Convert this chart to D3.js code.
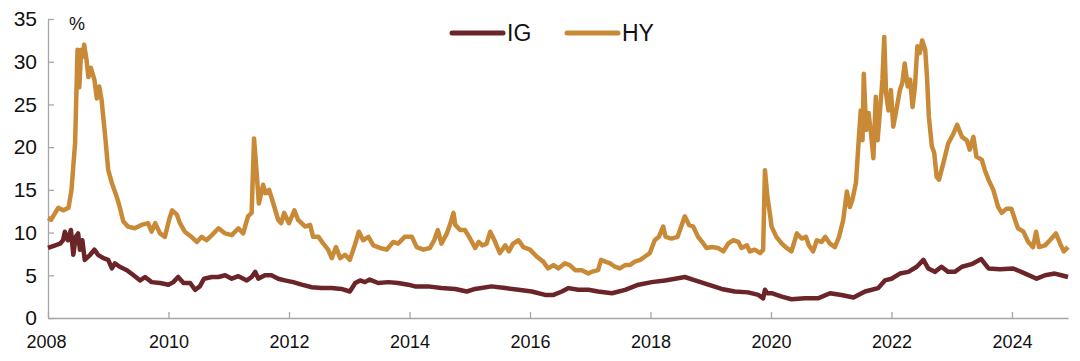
<!DOCTYPE html>
<html>
<head>
<meta charset="utf-8">
<script src="https://cdn.jsdelivr.net/npm/d3@7"></script>
<style>
  body { margin: 0; background: #fff; }
  svg { display: block; font-family: "Liberation Sans", Arial, sans-serif; }
</style>
</head>
<body>
<div id="chart"></div>
<script>
// HY series (decimal year, %)
const hyYears = [2008.0, 2008.05, 2008.17, 2008.25, 2008.34, 2008.39, 2008.45, 2008.49, 2008.52, 2008.55, 2008.58, 2008.60, 2008.64, 2008.67, 2008.71, 2008.77, 2008.81, 2008.85, 2008.89, 2008.95,
  2009.0, 2009.06, 2009.14, 2009.19, 2009.25, 2009.33, 2009.44, 2009.55, 2009.66, 2009.72, 2009.78, 2009.86, 2009.94,
  2010.01, 2010.06, 2010.14, 2010.19, 2010.27, 2010.38, 2010.47, 2010.55, 2010.63, 2010.72, 2010.83, 2010.94,
  2011.05, 2011.16, 2011.24, 2011.32, 2011.38, 2011.42, 2011.46, 2011.50, 2011.57, 2011.61, 2011.67, 2011.74, 2011.82, 2011.87, 2011.92,
  2012.0, 2012.09, 2012.15, 2012.27, 2012.35, 2012.40, 2012.49, 2012.57, 2012.65, 2012.71, 2012.78, 2012.85, 2012.93,
  2013.01, 2013.10, 2013.16, 2013.23, 2013.32, 2013.40, 2013.51, 2013.62, 2013.73, 2013.81, 2013.92,
  2014.04, 2014.12, 2014.23, 2014.34, 2014.41, 2014.47, 2014.53, 2014.62, 2014.68, 2014.73, 2014.76, 2014.84, 2014.92, 2014.99,
  2015.09, 2015.15, 2015.21, 2015.28, 2015.34, 2015.41, 2015.50, 2015.59, 2015.65, 2015.72, 2015.81, 2015.89,
  2016.0, 2016.11, 2016.22, 2016.30, 2016.39, 2016.47, 2016.58, 2016.66, 2016.75, 2016.86, 2016.97,
  2017.02, 2017.13, 2017.18, 2017.25, 2017.33, 2017.41, 2017.49, 2017.58, 2017.66, 2017.74, 2017.83, 2017.91, 2017.99,
  2018.07, 2018.14, 2018.21, 2018.25, 2018.35, 2018.45, 2018.51, 2018.57, 2018.64, 2018.71, 2018.79, 2018.88, 2018.93,
  2019.02, 2019.12, 2019.21, 2019.29, 2019.37, 2019.46, 2019.51, 2019.60, 2019.65, 2019.73, 2019.82, 2019.87, 2019.90, 2019.94, 2019.98,
  2020.01, 2020.09, 2020.18, 2020.26, 2020.34, 2020.43, 2020.51, 2020.58, 2020.63, 2020.70, 2020.76, 2020.84, 2020.90, 2020.98,
  2021.06, 2021.13, 2021.20, 2021.26, 2021.31, 2021.35, 2021.41, 2021.46, 2021.49, 2021.52, 2021.54, 2021.58, 2021.62, 2021.66, 2021.70, 2021.74, 2021.77, 2021.81, 2021.85, 2021.88, 2021.91, 2021.95, 2021.99,
  2022.03, 2022.08, 2022.14, 2022.18, 2022.22, 2022.27, 2022.31, 2022.35, 2022.39, 2022.43, 2022.47, 2022.51, 2022.56, 2022.59, 2022.62, 2022.67, 2022.71, 2022.75, 2022.79, 2022.86, 2022.94,
  2023.03, 2023.09, 2023.17, 2023.25, 2023.30, 2023.36, 2023.41, 2023.50, 2023.55, 2023.61, 2023.69, 2023.77, 2023.83, 2023.91, 2023.99,
  2024.05, 2024.10, 2024.19, 2024.27, 2024.35, 2024.40, 2024.45, 2024.55, 2024.63, 2024.73, 2024.80, 2024.86, 2024.93];
const hyValues = [11.7, 11.5, 12.9, 12.6, 12.9, 15.0, 20.5, 31.4, 27.0, 31.4, 30.6, 32.0, 30.2, 28.2, 29.3, 27.9, 25.7, 27.1, 25.5, 21.2,
  17.3, 15.8, 14.2, 13.0, 11.3, 10.7, 10.5, 10.9, 11.1, 10.1, 11.1, 9.9, 9.5,
  11.5, 12.6, 12.1, 11.1, 10.1, 9.5, 8.9, 9.5, 9.1, 9.7, 10.5, 9.9,
  9.7, 10.5, 9.9, 11.9, 12.3, 21.0, 17.3, 13.4, 15.6, 14.6, 15.0, 13.4, 11.5, 11.1, 12.3,
  11.1, 12.6, 11.5, 10.7, 10.9, 9.5, 9.5, 8.7, 8.0, 7.0, 8.3, 7.0, 7.4,
  6.8, 8.7, 10.1, 9.1, 9.5, 8.5, 8.2, 8.0, 8.9, 8.7, 9.5,
  9.5, 8.3, 8.0, 8.2, 9.1, 10.3, 8.7, 9.9, 11.1, 12.3, 10.9, 10.3, 10.3, 9.5,
  8.2, 8.9, 8.5, 8.7, 10.1, 9.1, 7.6, 8.5, 7.8, 8.7, 9.1, 8.3,
  8.0, 7.2, 6.6, 5.8, 6.2, 5.8, 6.4, 6.2, 5.6, 5.6, 5.2,
  5.4, 5.6, 6.8, 6.6, 6.4, 6.0, 5.8, 6.2, 6.2, 6.6, 6.8, 7.2, 7.6,
  9.1, 9.5, 10.7, 9.5, 9.3, 9.5, 10.7, 11.9, 10.9, 10.7, 9.5, 8.7, 8.2,
  8.3, 8.2, 7.8, 8.7, 9.1, 8.9, 8.2, 8.5, 7.8, 8.0, 7.6, 8.0, 17.3, 14.2, 12.3,
  10.7, 9.5, 8.7, 8.2, 7.8, 9.9, 9.3, 9.5, 8.5, 7.8, 9.1, 8.9, 9.5, 8.7,
  8.3, 9.5, 11.5, 14.8, 13.0, 13.8, 15.8, 21.2, 24.3, 20.8, 28.6, 22.0, 24.0, 21.6, 18.7, 25.9, 20.8, 24.3, 27.9, 32.9, 26.3, 24.3, 26.7,
  22.4, 24.3, 26.7, 27.5, 29.8, 27.1, 27.9, 24.7, 27.1, 31.8, 31.0, 32.5, 31.4, 28.2, 23.6, 20.1, 19.3, 16.5, 16.2, 18.1, 20.4,
  21.6, 22.6, 21.2, 20.8, 19.7, 21.2, 18.9, 18.5, 17.3, 16.2, 15.0, 13.0, 12.3, 12.8, 12.8,
  11.5, 10.5, 10.1, 8.9, 8.3, 10.1, 8.3, 8.5, 9.1, 9.9, 8.7, 7.8, 8.3];

// IG series (decimal year, %)
const igYears = [2008.0, 2008.12, 2008.2, 2008.25, 2008.28, 2008.33, 2008.38, 2008.42, 2008.46, 2008.50, 2008.53, 2008.57, 2008.61, 2008.70, 2008.77, 2008.83, 2008.92,
  2009.0, 2009.06, 2009.11, 2009.19, 2009.31, 2009.42, 2009.53, 2009.61, 2009.72, 2009.86,
  2010.0, 2010.08, 2010.16, 2010.25, 2010.36, 2010.44, 2010.52, 2010.59, 2010.72, 2010.83, 2010.94,
  2011.05, 2011.16, 2011.30, 2011.38, 2011.44, 2011.49, 2011.60, 2011.71, 2011.82, 2011.93,
  2012.07, 2012.21, 2012.38, 2012.54, 2012.71, 2012.87, 2013.01, 2013.10, 2013.18, 2013.26, 2013.34, 2013.48, 2013.65, 2013.81, 2013.98,
  2014.09, 2014.31, 2014.53, 2014.76, 2014.95, 2015.09, 2015.36, 2015.59, 2015.81,
  2016.03, 2016.25, 2016.39, 2016.53, 2016.64, 2016.80, 2016.97, 2017.13, 2017.36, 2017.58, 2017.80,
  2018.02, 2018.24, 2018.41, 2018.57, 2018.74, 2018.96, 2019.18, 2019.40, 2019.62, 2019.79, 2019.87, 2019.90, 2019.94,
  2020.01, 2020.18, 2020.34, 2020.56, 2020.78, 2020.98, 2021.17, 2021.37, 2021.56, 2021.78, 2021.89,
  2022.0, 2022.14, 2022.28, 2022.42, 2022.53, 2022.61, 2022.72, 2022.83, 2022.94,
  2023.05, 2023.17, 2023.33, 2023.49, 2023.61, 2023.80, 2024.02, 2024.22, 2024.41, 2024.55, 2024.71, 2024.82, 2024.93];
const igValues = [8.2, 8.5, 8.7, 9.1, 10.1, 9.1, 10.3, 7.4, 9.5, 9.9, 8.0, 9.1, 6.8, 7.4, 8.0, 7.4, 7.0,
  6.8, 5.8, 6.4, 6.0, 5.6, 5.0, 4.4, 4.8, 4.2, 4.1,
  3.9, 4.2, 4.8, 4.1, 4.1, 3.3, 3.7, 4.6, 4.8, 4.8, 5.0,
  4.6, 4.9, 4.4, 4.8, 5.4, 4.6, 5.0, 5.0, 4.6, 4.4,
  4.2, 3.9, 3.6, 3.5, 3.5, 3.4, 3.1, 4.1, 4.4, 4.2, 4.5, 4.1, 4.2, 4.1, 3.9,
  3.7, 3.7, 3.5, 3.4, 3.1, 3.4, 3.7, 3.5, 3.3,
  3.1, 2.7, 2.7, 3.1, 3.5, 3.3, 3.3, 3.1, 2.9, 3.3, 3.9,
  4.2, 4.4, 4.6, 4.8, 4.4, 3.9, 3.4, 3.1, 3.0, 2.7, 2.3, 3.3, 2.9,
  2.9, 2.5, 2.2, 2.3, 2.3, 2.9, 2.7, 2.4, 3.1, 3.5, 4.4,
  4.6, 5.2, 5.4, 6.0, 6.8, 5.8, 5.4, 6.0, 5.4,
  5.4, 6.0, 6.3, 6.9, 5.8, 5.7, 5.8, 5.2, 4.6, 5.0, 5.2, 5.0, 4.8];

const xTickYears = [2008, 2010, 2012, 2014, 2016, 2018, 2020, 2022, 2024];
const yTickValues = [0, 5, 10, 15, 20, 25, 30, 35];

const seriesNames = ['IG', 'HY'];
const seriesColors = ['#6b2427', '#c98a37'];

const width = 1080, height = 361;
const plotLeft = 48, plotRight = 1068, plotTop = 19, plotBottom = 318;

const svg = d3.select('#chart').append('svg')
  .attr('width', width)
  .attr('height', height);

const x = d3.scaleLinear().domain([2008, 2024.93]).range([plotLeft, plotRight]);
const y = d3.scaleLinear().domain([0, 35]).range([plotBottom, plotTop]);

// Axes
const xAxis = svg.append('g')
  .attr('transform', 'translate(0,' + plotBottom + ')')
  .call(d3.axisBottom(x).tickValues(xTickYears).tickFormat(d3.format('d')).tickSize(-6).tickPadding(17).tickSizeOuter(0));

const yAxis = svg.append('g')
  .attr('transform', 'translate(' + plotLeft + ',0)')
  .call(d3.axisLeft(y).tickValues(yTickValues).tickSize(-6).tickPadding(11).tickSizeOuter(0));

svg.selectAll('.domain, .tick line').attr('stroke', '#a6a6a6').attr('stroke-width', 1.3);
xAxis.selectAll('.tick text').attr('font-size', 18).attr('fill', '#111');
yAxis.selectAll('.tick text').attr('font-size', 21).attr('fill', '#111');
xAxis.select('.tick text').attr('dx', -2);

svg.append('text')
  .attr('x', 69).attr('y', 30)
  .attr('font-size', 18).attr('fill', '#111')
  .text('%');

// Lines
const line = d3.line()
  .x(d => x(d[0]))
  .y(d => y(d[1]));

const igData = d3.zip(igYears, igValues);
const hyData = d3.zip(hyYears, hyValues);

svg.append('path')
  .datum(igData)
  .attr('fill', 'none')
  .attr('stroke', seriesColors[0])
  .attr('stroke-width', 4.5)
  .attr('stroke-linejoin', 'round')
  .attr('d', line);

svg.append('path')
  .datum(hyData)
  .attr('fill', 'none')
  .attr('stroke', seriesColors[1])
  .attr('stroke-width', 4.5)
  .attr('stroke-linejoin', 'round')
  .attr('d', line);

// Legend
const legendX = [452, 567];
seriesNames.forEach(function(name, i) {
  svg.append('line')
    .attr('x1', legendX[i]).attr('x2', legendX[i] + 51)
    .attr('y1', 33).attr('y2', 33)
    .attr('stroke', seriesColors[i])
    .attr('stroke-width', 5)
    .attr('stroke-linecap', 'round');
  svg.append('text')
    .attr('x', legendX[i] + 55).attr('y', 41)
    .attr('font-size', 23).attr('fill', '#111')
    .text(name);
});
</script>
</body>
</html>
